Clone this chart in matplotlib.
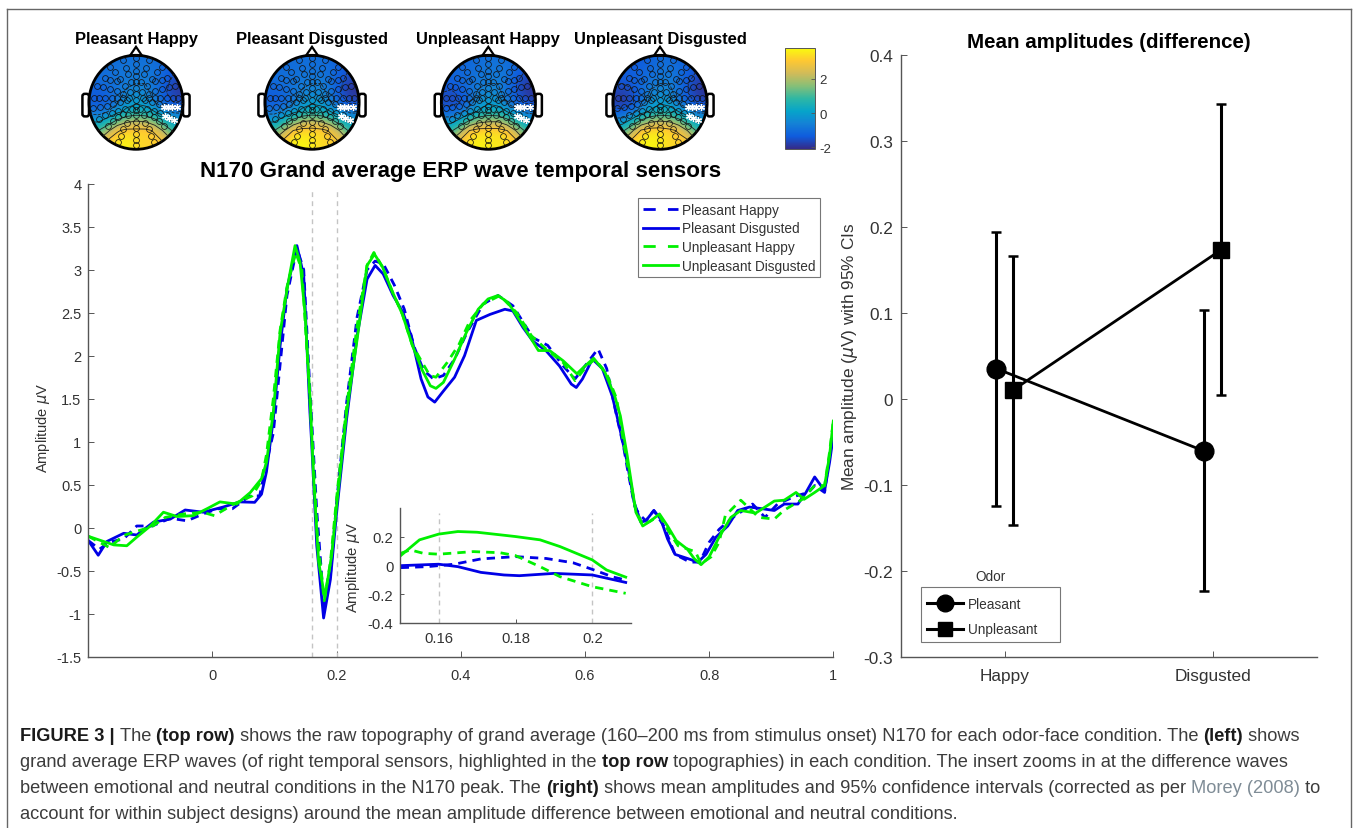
import numpy as np
import matplotlib
matplotlib.use("Agg")
import matplotlib.pyplot as plt
from matplotlib.colors import LinearSegmentedColormap
from matplotlib.lines import Line2D
from matplotlib.patches import Circle, FancyBboxPatch, Polygon, Rectangle
from matplotlib.cm import ScalarMappable
from matplotlib.colors import Normalize

W, H = 1358, 829
plt.rcParams["font.family"] = ["Liberation Sans", "DejaVu Sans"]
plt.rcParams["mathtext.fontset"] = "custom"
plt.rcParams["mathtext.it"] = "DejaVu Sans:italic"

# grand average ERP
pd_t = [-0.2,-0.184,-0.17,-0.143,-0.122,-0.095,-0.068,-0.044,-0.015,0.017,0.044,0.068,0.079,0.087,0.098,0.109,0.12,0.136,0.147,0.157,0.16,0.168,0.179,0.19,0.2,0.216,0.233,0.249,0.262,0.275,0.291,0.307,0.32,0.336,0.347,0.358,0.371,0.39,0.406,0.425,0.447,0.471,0.484,0.5,0.516,0.537,0.559,0.578,0.586,0.596,0.612,0.628,0.644,0.655,0.668,0.679,0.69,0.698,0.711,0.722,0.733,0.745,0.766,0.782,0.795,0.811,0.83,0.846,0.865,0.886,0.905,0.921,0.943,0.956,0.97,0.986,0.994,1.0]
pd_v = [-0.15,-0.32,-0.16,-0.065,-0.085,0.065,0.10,0.206,0.18,0.24,0.30,0.295,0.39,0.65,1.26,2.12,2.78,3.28,2.93,1.34,0.95,-0.21,-1.05,-0.6,0.18,1.26,2.23,2.89,3.05,2.95,2.70,2.5,2.23,1.73,1.52,1.46,1.58,1.75,2.0,2.41,2.48,2.54,2.52,2.33,2.17,2.06,1.88,1.67,1.63,1.73,1.96,1.85,1.53,1.19,0.76,0.30,0.065,0.08,0.2,0.10,-0.13,-0.31,-0.36,-0.40,-0.31,-0.11,0.02,0.2,0.24,0.22,0.2,0.275,0.275,0.41,0.59,0.43,0.76,1.07]
ud_t = [-0.2,-0.159,-0.138,-0.122,-0.1,-0.079,-0.057,-0.031,-0.009,0.012,0.039,0.061,0.079,0.087,0.098,0.109,0.122,0.133,0.141,0.149,0.157,0.163,0.171,0.181,0.192,0.2,0.216,0.233,0.249,0.261,0.274,0.29,0.306,0.322,0.338,0.351,0.36,0.372,0.39,0.409,0.428,0.444,0.46,0.476,0.495,0.514,0.525,0.543,0.565,0.587,0.6,0.614,0.632,0.648,0.657,0.668,0.682,0.693,0.706,0.72,0.733,0.747,0.765,0.776,0.787,0.8,0.816,0.835,0.851,0.875,0.905,0.921,0.94,0.953,0.97,0.986,0.994,1.0]
ud_v = [-0.1,-0.2,-0.21,-0.11,0.02,0.18,0.13,0.14,0.22,0.30,0.275,0.41,0.57,0.76,1.34,2.27,2.85,3.28,3.09,2.5,1.53,0.57,-0.4,-0.81,-0.32,0.26,1.34,2.19,3.05,3.18,3.03,2.74,2.48,2.12,1.83,1.65,1.62,1.69,1.96,2.27,2.54,2.66,2.70,2.62,2.41,2.19,2.06,2.06,1.94,1.79,1.88,1.97,1.81,1.53,1.30,0.84,0.18,0.02,0.08,0.16,0.02,-0.15,-0.25,-0.36,-0.43,-0.34,-0.11,0.12,0.2,0.17,0.31,0.32,0.41,0.33,0.41,0.49,0.84,1.24]
ph_t = [-0.2,-0.182,-0.167,-0.143,-0.122,-0.097,-0.068,-0.041,-0.015,0.008,0.032,0.06,0.076,0.087,0.098,0.109,0.12,0.136,0.147,0.157,0.168,0.18,0.19,0.2,0.216,0.233,0.249,0.262,0.275,0.293,0.309,0.325,0.34,0.356,0.372,0.39,0.41,0.436,0.46,0.484,0.516,0.54,0.565,0.584,0.6,0.621,0.635,0.651,0.662,0.668,0.68,0.687,0.698,0.711,0.727,0.745,0.769,0.785,0.8,0.816,0.838,0.87,0.89,0.91,0.94,0.96,0.97,0.986,0.994,1.0]
ph_v = [-0.15,-0.25,-0.17,-0.13,0.02,0.02,0.11,0.08,0.16,0.22,0.22,0.37,0.37,0.75,1.1,1.9,2.7,3.25,3.0,1.6,0.2,-0.95,-0.55,0.3,1.45,2.45,3.0,3.1,3.07,2.82,2.54,2.1,1.83,1.73,1.77,1.96,2.27,2.6,2.70,2.58,2.21,2.12,1.88,1.73,1.88,2.08,1.85,1.3,0.95,0.7,0.25,0.16,0.08,0.2,0.02,-0.31,-0.40,-0.40,-0.17,-0.02,0.12,0.275,0.12,0.275,0.37,0.41,0.49,0.41,0.84,1.07]
uh_t = [-0.2,-0.166,-0.143,-0.126,-0.098,-0.076,-0.046,-0.016,0.003,0.034,0.064,0.079,0.087,0.098,0.109,0.12,0.134,0.144,0.157,0.169,0.18,0.19,0.2,0.216,0.233,0.249,0.26,0.274,0.29,0.306,0.322,0.35,0.36,0.378,0.397,0.415,0.436,0.463,0.49,0.514,0.54,0.565,0.584,0.603,0.616,0.635,0.651,0.662,0.668,0.682,0.693,0.706,0.72,0.733,0.75,0.778,0.787,0.803,0.816,0.826,0.851,0.88,0.905,0.92,0.95,0.97,0.986,0.994,1.0]
uh_v = [-0.1,-0.23,-0.09,-0.05,0.01,0.12,0.16,0.18,0.14,0.275,0.37,0.55,0.85,1.5,2.3,2.8,3.2,3.0,1.5,-0.1,-0.85,-0.4,0.35,1.4,2.35,3.05,3.2,3.03,2.74,2.48,2.12,1.77,1.75,1.92,2.13,2.41,2.6,2.70,2.5,2.23,2.06,1.92,1.71,1.88,1.96,1.79,1.5,1.0,0.75,0.2,0.03,0.08,0.14,-0.02,-0.21,-0.28,-0.42,-0.34,-0.17,0.14,0.32,0.12,0.10,0.2,0.33,0.49,0.49,0.88,1.24]

# difference waves in the insert
ins_ud_t = [0.1501,0.155,0.16,0.165,0.17,0.18,0.1864,0.1916,0.2,0.2037,0.2087]
ins_ud_v = [0.07,0.18,0.22,0.238,0.233,0.203,0.18,0.133,0.04,-0.03,-0.08]
ins_uh_t = [0.1501,0.1526,0.156,0.16,0.169,0.176,0.18,0.1864,0.1916,0.2,0.2087]
ins_uh_v = [0.086,0.11,0.086,0.08,0.098,0.09,0.07,-0.007,-0.077,-0.147,-0.193]
ins_pd_t = [0.1501,0.155,0.16,0.165,0.171,0.177,0.181,0.19,0.2,0.2087]
ins_pd_v = [0.0,0.005,0.01,-0.007,-0.047,-0.065,-0.07,-0.054,-0.065,-0.117]
ins_ph_t = [0.1501,0.157,0.164,0.171,0.18,0.188,0.195,0.2,0.2055,0.2087]
ins_ph_v = [-0.014,-0.007,0.01,0.047,0.063,0.05,0.02,-0.026,-0.08,-0.1]

# right panel
conditions = ["Happy", "Disgusted"]
pleasant_x = [0.96, 1.96]
pleasant_mean = [0.035, -0.061]
pleasant_lo = [-0.125, -0.224]
pleasant_hi = [0.194, 0.103]
unpleasant_x = [1.04, 2.04]
unpleasant_mean = [0.01, 0.173]
unpleasant_lo = [-0.147, 0.004]
unpleasant_hi = [0.166, 0.343]

# topographies, rows from front (y=1) to back (y=-1), columns left to right
topo_pleasant_happy = [
    [-1.0,-1.0,-1.0,-1.0,-1.0,-1.0,-1.0,-1.0,-1.0,-1.0,-1.0],
    [-1.0,-1.0,-1.0,-1.0,-0.9,-0.9,-0.9,-1.0,-1.2,-1.3,-1.3],
    [-1.0,-1.0,-1.0,-0.9,-0.8,-0.8,-0.8,-0.9,-1.2,-1.5,-1.6],
    [-1.1,-1.1,-1.0,-0.9,-0.8,-0.7,-0.7,-0.9,-1.3,-1.7,-1.8],
    [-1.3,-1.4,-1.2,-0.9,-0.6,-0.4,-0.5,-0.9,-1.4,-1.8,-1.9],
    [-1.3,-1.4,-1.3,-0.8,-0.3,-0.1,-0.2,-0.7,-1.2,-1.5,-1.6],
    [-0.9,-1.0,-0.7,-0.2,0.2,0.4,0.3,0.0,-0.4,-0.8,-0.8],
    [-0.1,-0.1,0.4,1.2,1.8,2.0,1.9,1.3,0.5,0.0,-0.2],
    [0.8,1.0,1.8,2.9,3.2,3.2,3.2,2.9,1.8,0.8,0.5],
    [1.5,2.0,3.0,3.4,3.6,3.3,3.2,3.2,2.9,1.8,1.0],
    [2.0,2.5,3.2,3.6,3.7,3.4,3.2,3.2,3.0,2.2,1.5],
]
topo_pleasant_disgusted = [
    [-1.1,-1.1,-1.1,-1.0,-1.0,-1.0,-1.0,-1.1,-1.1,-1.2,-1.2],
    [-1.1,-1.1,-1.1,-1.0,-1.0,-1.0,-1.0,-1.1,-1.3,-1.4,-1.4],
    [-1.0,-1.0,-1.0,-1.0,-0.9,-0.9,-0.9,-1.0,-1.3,-1.6,-1.7],
    [-1.1,-1.1,-1.0,-0.9,-0.8,-0.7,-0.7,-1.0,-1.4,-1.8,-1.9],
    [-1.2,-1.3,-1.2,-0.9,-0.6,-0.5,-0.5,-0.9,-1.5,-1.9,-2.0],
    [-1.3,-1.4,-1.2,-0.8,-0.3,-0.1,-0.2,-0.7,-1.2,-1.6,-1.6],
    [-0.9,-0.9,-0.6,-0.2,0.2,0.4,0.3,0.0,-0.4,-0.8,-0.8],
    [-0.1,-0.1,0.5,1.3,1.9,2.1,1.9,1.3,0.5,0.0,-0.2],
    [0.7,1.0,1.9,3.0,3.3,3.3,3.2,2.9,1.9,0.8,0.5],
    [1.5,2.1,3.1,3.6,3.7,3.5,3.3,3.2,2.9,1.8,1.0],
    [2.0,2.6,3.3,3.7,3.8,3.6,3.3,3.2,3.0,2.2,1.5],
]
topo_unpleasant_happy = [
    [-1.2,-1.2,-1.2,-1.1,-1.0,-1.0,-1.0,-1.0,-1.1,-1.1,-1.1],
    [-1.2,-1.2,-1.2,-1.1,-1.0,-0.9,-0.9,-1.0,-1.2,-1.3,-1.3],
    [-1.2,-1.2,-1.1,-1.0,-0.9,-0.8,-0.8,-0.9,-1.3,-1.6,-1.7],
    [-1.3,-1.3,-1.2,-1.0,-0.8,-0.7,-0.7,-1.0,-1.5,-1.8,-1.9],
    [-1.5,-1.6,-1.4,-1.0,-0.6,-0.4,-0.5,-1.0,-1.5,-1.9,-2.0],
    [-1.6,-1.7,-1.5,-1.0,-0.3,-0.1,-0.2,-0.8,-1.3,-1.6,-1.6],
    [-1.2,-1.2,-0.9,-0.3,0.1,0.4,0.3,0.0,-0.4,-0.8,-0.9],
    [-0.3,-0.3,0.3,1.1,1.7,1.9,1.9,1.3,0.5,0.0,-0.2],
    [0.6,0.8,1.7,3.0,3.3,3.3,3.3,3.0,1.9,0.8,0.5],
    [1.4,1.9,3.0,3.5,3.6,3.5,3.5,3.4,3.0,1.8,1.0],
    [1.8,2.4,3.2,3.6,3.8,3.6,3.5,3.4,3.1,2.2,1.5],
]
topo_unpleasant_disgusted = [
    [-1.4,-1.4,-1.4,-1.3,-1.2,-1.1,-1.1,-1.2,-1.2,-1.2,-1.2],
    [-1.4,-1.4,-1.4,-1.3,-1.2,-1.0,-1.0,-1.1,-1.3,-1.4,-1.4],
    [-1.3,-1.3,-1.3,-1.2,-1.0,-0.9,-0.8,-1.0,-1.3,-1.6,-1.7],
    [-1.4,-1.5,-1.4,-1.1,-0.9,-0.7,-0.7,-1.0,-1.5,-1.8,-1.9],
    [-1.7,-1.8,-1.6,-1.1,-0.6,-0.4,-0.5,-1.0,-1.5,-1.9,-2.0],
    [-1.8,-1.9,-1.6,-1.0,-0.3,-0.1,-0.2,-0.8,-1.3,-1.6,-1.6],
    [-1.3,-1.3,-1.0,-0.3,0.1,0.4,0.3,0.0,-0.4,-0.8,-0.8],
    [-0.4,-0.4,0.3,1.2,1.8,2.0,1.9,1.3,0.5,0.0,-0.2],
    [0.5,0.8,1.8,3.1,3.4,3.4,3.2,2.9,1.9,0.8,0.5],
    [1.4,1.9,3.1,3.6,3.7,3.6,3.3,3.2,3.0,1.8,1.0],
    [1.8,2.4,3.3,3.7,3.8,3.6,3.3,3.2,3.1,2.2,1.5],
]
topo_titles = ["Pleasant Happy", "Pleasant Disgusted", "Unpleasant Happy", "Unpleasant Disgusted"]
topo_maps = [topo_pleasant_happy, topo_pleasant_disgusted, topo_unpleasant_happy, topo_unpleasant_disgusted]

# sensor layout: midline, then the left half (mirrored when drawn)
sensors_mid = [(0,0.94),(0,0.81),(0,0.67),(0,0.55),(0,0.43),(0,0.30),(0,0.17),(0,0.04),(0,-0.08),(0,-0.16),(0,-0.28),(0,-0.41),(0,-0.54),(0,-0.67),(0,-0.80),(0,-0.91)]
sensors_left = [
    (-0.55,0.76),(-0.45,0.64),(-0.34,0.5),(-0.23,0.35),(-0.13,0.21),
    (-0.27,0.89),(-0.22,0.74),(-0.16,0.6),(-0.11,0.43),
    (-0.82,0.35),(-0.7,0.32),(-0.55,0.28),(-0.41,0.25),(-0.27,0.18),
    (-0.66,0.51),(-0.55,0.48),(-0.41,0.45),
    (-0.9,0.1),(-0.78,0.1),(-0.65,0.1),(-0.52,0.1),(-0.4,0.1),(-0.27,0.1),(-0.14,0.1),
    (-0.91,-0.13),(-0.77,-0.09),(-0.62,-0.07),(-0.48,-0.04),(-0.34,0.0),(-0.2,0.04),
    (-0.78,-0.35),(-0.66,-0.28),(-0.52,-0.23),(-0.38,-0.19),(-0.23,-0.14),
    (-0.38,-0.85),(-0.32,-0.71),(-0.27,-0.57),(-0.2,-0.43),(-0.16,-0.28),(-0.09,-0.14),
    (-0.59,-0.5),(-0.48,-0.39),(-0.38,-0.32),(-0.27,-0.25),
]
sensors_marked = [(0.6,-0.09),(0.68,-0.09),(0.76,-0.09),(0.88,-0.09),(0.62,-0.3),(0.7,-0.33),(0.8,-0.37)]

caption_lines = [
    [("FIGURE 3 | ", "b"), ("The ", "n"), ("(top row)", "b"), (" shows the raw topography of grand average (160–200 ms from stimulus onset) N170 for each odor-face condition. The ", "n"), ("(left)", "b"), (" shows", "n")],
    [("grand average ERP waves (of right temporal sensors, highlighted in the ", "n"), ("top row", "b"), (" topographies) in each condition. The insert zooms in at the difference waves", "n")],
    [("between emotional and neutral conditions in the N170 peak. The ", "n"), ("(right)", "b"), (" shows mean amplitudes and 95% confidence intervals (corrected as per ", "n"), ("Morey (2008)", "l"), (" to", "n")],
    [("account for within subject designs) around the mean amplitude difference between emotional and neutral conditions.", "n")],
]

BLUE = "#0000e6"
GREEN = "#00f000"
AX_COL = "#555555"
TXT_COL = "#333333"
parula = LinearSegmentedColormap.from_list("parula", ["#352a87", "#0f5cdd", "#1481d6", "#06a4ca", "#2eb7a4", "#87bf77", "#d1bb59", "#fec832", "#f9fb0e"])
VMIN, VMAX = -2.1, 3.8

fig = plt.figure(figsize=(W/100, H/100), dpi=100)


def box(left, top, right, bottom):
    # pixel box of the reference -> figure fractions
    return [left/W, 1-bottom/H, (right-left)/W, (bottom-top)/H]


def style_axes(ax, tick_size, ticklen=4.3):
    ax.spines["top"].set_visible(False)
    ax.spines["right"].set_visible(False)
    for s in ["left", "bottom"]:
        ax.spines[s].set_color(AX_COL)
        ax.spines[s].set_linewidth(1.0)
    ax.tick_params(direction="in", length=ticklen, width=0.7, color=AX_COL, labelcolor=TXT_COL, labelsize=tick_size)


def draw_waves(ax, series, lw):
    for t, v, col, dashed in series:
        line, = ax.plot(t, v, color=col, lw=lw)
        if dashed:
            line.set_dashes((3.0, 2.2))


def draw_head(cx, cy, grid, title):
    r = 47.0
    half = 62.0
    ax = fig.add_axes(box(cx-half, cy-half, cx+half, cy+half))
    ax.set_xlim(-half/r, half/r)
    ax.set_ylim(-half/r, half/r)
    ax.axis("off")
    grid = np.array(grid)
    clip = Circle((0, 0), 1.0, transform=ax.transData)
    im = ax.imshow(grid, extent=(-1.1, 1.1, -1.1, 1.1), cmap=parula, vmin=VMIN, vmax=VMAX, interpolation="bicubic", origin="upper")
    im.set_clip_path(clip)
    gx = np.linspace(-1, 1, grid.shape[1])
    gy = np.linspace(1, -1, grid.shape[0])
    cs = ax.contour(gx, gy, grid, levels=[-1.5, -0.7, 0, 1, 2, 3], colors="#222222", linewidths=0.6)
    cs.set_clip_path(clip)
    ax.set_xlim(-half/r, half/r)
    ax.set_ylim(-half/r, half/r)
    left = np.array(sensors_left)
    pts = np.vstack([np.array(sensors_mid), left, left*[-1, 1]])
    ax.plot(pts[:, 0], pts[:, 1], ls="none", marker="o", ms=4.2, mfc="none", mec="#111111", mew=0.6, alpha=0.9)
    marked = np.array(sensors_marked)
    ax.plot(marked[:, 0], marked[:, 1], ls="none", marker=(6, 2, 0), ms=5, mec="white", mew=0.9)
    ax.add_patch(Circle((0, 0), 1.0, fc="none", ec="black", lw=2.0))
    ax.add_patch(Polygon([(-0.13, 0.99), (0, 1.18), (0.13, 0.99)], closed=True, fc="none", ec="black", lw=1.6))
    for sign in (-1, 1):
        ax.add_patch(FancyBboxPatch((sign*1.07-0.05, -0.28), 0.1, 0.44, boxstyle="round,pad=0.02,rounding_size=0.05", fc="none", ec="black", lw=1.8))
    fig.text(cx/W, 1-39.5/H, title, ha="center", va="center", fontsize=11.9, fontweight="bold", color="black")


# frame round the figure
for xs, ys in [((7, 7), (829, 10)), ((7, 1350.5), (10, 10)), ((1350.5, 1350.5), (10, 829))]:
    fig.add_artist(Line2D([x/W for x in xs], [1-y/H for y in ys], color="#666666", lw=1.0))

# topographies and colorbar
for cx, grid, title in zip([136, 312, 488.3, 660], topo_maps, topo_titles):
    draw_head(cx, 103.3, grid, title)
cax = fig.add_axes(box(785, 49, 815, 150))
cb = fig.colorbar(ScalarMappable(Normalize(VMIN, VMAX), parula), cax=cax)
cb.set_ticks([-2, 0, 2], labels=["-2", "0", "2"])
cb.ax.tick_params(direction="in", length=3, width=0.6, color=AX_COL, labelcolor=TXT_COL, labelsize=9.5, pad=3)
cb.outline.set_edgecolor(AX_COL)
cb.outline.set_linewidth(0.7)

# main ERP panel
ax = fig.add_axes(box(88.3, 184.7, 833.3, 657.7))
for t0 in (0.16, 0.2):
    ax.plot([t0, t0], [-1.5, 3.94], color="#c4c4c4", lw=1.0, dashes=(3.5, 3))
draw_waves(ax, [(ph_t, ph_v, BLUE, True), (pd_t, pd_v, BLUE, False), (uh_t, uh_v, GREEN, True), (ud_t, ud_v, GREEN, False)], 2.0)
ax.set_xlim(-0.2, 1)
ax.set_ylim(-1.5, 4)
ax.set_xticks([0, 0.2, 0.4, 0.6, 0.8, 1], labels=["0", "0.2", "0.4", "0.6", "0.8", "1"])
ax.set_yticks([-1.5, -1, -0.5, 0, 0.5, 1, 1.5, 2, 2.5, 3, 3.5, 4], labels=["-1.5", "-1", "-0.5", "0", "0.5", "1", "1.5", "2", "2.5", "3", "3.5", "4"])
style_axes(ax, 10.5)
ax.tick_params(axis="x", pad=8)
ax.tick_params(axis="y", pad=5)
fig.text(43/W, 1-428/H, r"Amplitude $\mu$V", rotation=90, ha="center", va="center", fontsize=10.5, color=TXT_COL)
fig.text(461/W, 1-172/H, "N170 Grand average ERP wave temporal sensors", ha="center", va="center", fontsize=16.1, fontweight="bold", color="black")
handles = [Line2D([], [], color=BLUE, lw=2.0, dashes=(4.4, 4.4)), Line2D([], [], color=BLUE, lw=2.0),
           Line2D([], [], color=GREEN, lw=2.0, dashes=(4.4, 4.4)), Line2D([], [], color=GREEN, lw=2.0)]
leg = ax.legend(handles, topo_titles, loc="upper left", bbox_to_anchor=(638.3/W, 1-199/H), bbox_transform=fig.transFigure,
                borderaxespad=0, fontsize=9.8, fancybox=False, framealpha=1, edgecolor="#777777",
                handlelength=2.55, handletextpad=0.3, labelspacing=0.34, borderpad=0.35, labelcolor=TXT_COL)
leg.get_frame().set_linewidth(0.8)

# insert with the difference waves
ins = fig.add_axes(box(400.3, 509.3, 630.7, 624))
ins.patch.set_alpha(0)
for t0 in (0.16, 0.2):
    ins.plot([t0, t0], [-0.4, 0.37], color="#c4c4c4", lw=1.0, dashes=(3.5, 3))
draw_waves(ins, [(ins_ph_t, ins_ph_v, BLUE, True), (ins_pd_t, ins_pd_v, BLUE, False), (ins_uh_t, ins_uh_v, GREEN, True), (ins_ud_t, ins_ud_v, GREEN, False)], 2.0)
ins.set_xlim(0.15, 0.21)
ins.set_ylim(-0.4, 0.4)
ins.set_xticks([0.16, 0.18, 0.2], labels=["0.16", "0.18", "0.2"])
ins.set_yticks([-0.4, -0.2, 0, 0.2], labels=["-0.4", "-0.2", "0", "0.2"])
style_axes(ins, 10.7, 3)
ins.tick_params(axis="x", pad=6)
ins.tick_params(axis="y", pad=5)
fig.text(353/W, 1-567/H, r"Amplitude $\mu$V", rotation=90, ha="center", va="center", fontsize=10.7, color=TXT_COL)

# right panel
rx = fig.add_axes(box(900.7, 55.7, 1316.7, 657.7))
marks = dict(color="black", lw=2.0, elinewidth=2.2, capsize=3.4, capthick=1.8)
rx.errorbar(pleasant_x, pleasant_mean,
            yerr=[np.array(pleasant_mean)-pleasant_lo, np.array(pleasant_hi)-pleasant_mean],
            marker="o", ms=13.5, label="Pleasant", **marks)
rx.errorbar(unpleasant_x, unpleasant_mean,
            yerr=[np.array(unpleasant_mean)-unpleasant_lo, np.array(unpleasant_hi)-unpleasant_mean],
            marker="s", ms=11.5, label="Unpleasant", **marks)
rx.set_xlim(0.5, 2.5)
rx.set_ylim(-0.3, 0.4)
rx.set_xticks([1, 2], labels=conditions)
rx.set_yticks([-0.3, -0.2, -0.1, 0, 0.1, 0.2, 0.3, 0.4], labels=["-0.3", "-0.2", "-0.1", "0", "0.1", "0.2", "0.3", "0.4"])
style_axes(rx, 12.4)
rx.tick_params(axis="x", pad=8)
rx.tick_params(axis="y", pad=5.5)
fig.text(850/W, 1-357/H, r"Mean amplitude ($\mu$V) with 95% CIs", rotation=90, ha="center", va="center", fontsize=12.4, color=TXT_COL)
fig.text(1108.5/W, 1-42.5/H, "Mean amplitudes (difference)", ha="center", va="center", fontsize=14.8, fontweight="bold", color="black")
# legend box is wider than its entries in the reference
rx.add_patch(Rectangle(box(921.3, 588.3, 1060, 643.3)[:2], 138.7/W, 55/H, transform=fig.transFigure, fc="white", ec="#777777", lw=0.8, zorder=4.5))
hs = [Line2D([], [], color="black", lw=2.2, marker="o", ms=12), Line2D([], [], color="black", lw=2.2, marker="s", ms=9.5)]
leg2 = rx.legend(hs, ["Pleasant", "Unpleasant"], loc="upper left", bbox_to_anchor=(921.3/W, 1-592.5/H), bbox_transform=fig.transFigure,
                 borderaxespad=0, fontsize=9.8, frameon=False,
                 handlelength=2.7, handletextpad=0.35, labelspacing=0.84, borderpad=0.4, labelcolor=TXT_COL)
fig.text(990/W, 1-577/H, "Odor", ha="center", va="center", fontsize=9.8, color=TXT_COL)

# caption, one run of text after the other
renderer = fig.canvas.get_renderer()
CAP_SIZE = 13.15


def run_width(text, weight):
    # bar on the end so trailing spaces get measured too
    a = fig.text(0, 0, text+"|", fontsize=CAP_SIZE, fontweight=weight)
    b = fig.text(0, 0, "|", fontsize=CAP_SIZE, fontweight=weight)
    w = a.get_window_extent(renderer).width-b.get_window_extent(renderer).width
    a.remove()
    b.remove()
    return w


for line, base in zip(caption_lines, [741, 767, 793.5, 819.5]):
    x = 20.0
    for text, kind in line:
        weight = "bold" if kind == "b" else "normal"
        col = "#7f8c96" if kind == "l" else ("#1a1a1a" if kind == "b" else "#3c3c3c")
        fig.text(x/W, 1-base/H, text, fontsize=CAP_SIZE, fontweight=weight, color=col, va="baseline", ha="left")
        x += run_width(text, weight)

fig.savefig("out.png", dpi=100)
